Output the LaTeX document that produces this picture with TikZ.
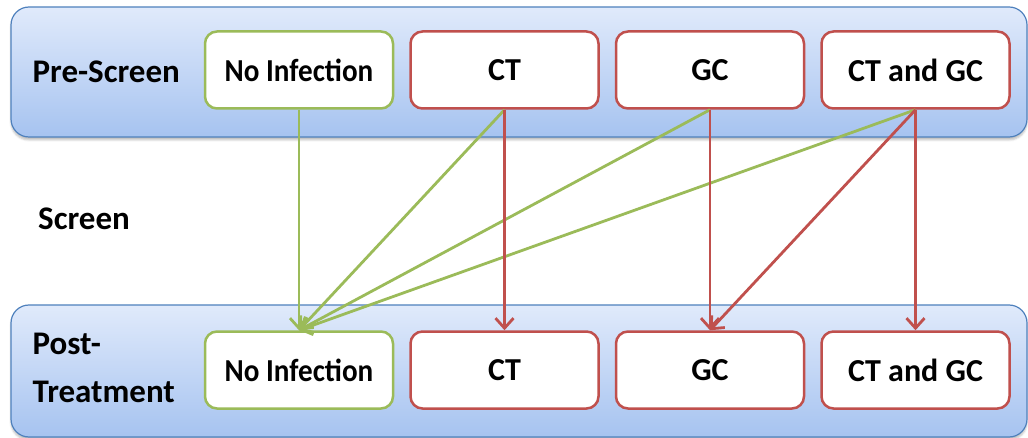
\documentclass[tikz,border=0pt]{standalone}
\usepackage{fontspec}
\setmainfont{Carlito}
\newfontfamily\narrowfont[FakeStretch=0.91]{Carlito}
\usetikzlibrary{arrows.meta,positioning,shadows.blur}
\definecolor{bandedge}{HTML}{4F81BD}
\definecolor{bandtop}{HTML}{E0EAFB}
\definecolor{bandbottom}{HTML}{A6C3F0}
\definecolor{greenedge}{HTML}{9BBB59}
\definecolor{rededge}{HTML}{C0504D}
\tikzset{
      band/.style = {draw=bandedge, line width=1.2pt, rounded corners=18pt,
                     top color=bandtop, bottom color=bandbottom,
                     minimum width=1016pt,
                     blur shadow={shadow xshift=0pt, shadow yshift=-3pt, shadow opacity=25}},
    infbox/.style = {draw, line width=2.5pt, rounded corners=12pt, fill=white,
                     minimum width=188pt, minimum height=77pt,
                     font=\fontsize{32}{36}\selectfont\bfseries},
  clearbox/.style = {infbox, draw=greenedge,
                     font=\fontsize{32}{36}\narrowfont\bfseries},   % no infection
    posbox/.style = {infbox, draw=rededge},     % CT / GC
  rowlabel/.style = {anchor=west, inner sep=0pt, align=left,
                     font=\fontsize{33}{48}\selectfont\bfseries},
       arr/.style = {line width=2.8pt, -{Straight Barb[length=10pt, width=18pt]}},
}

\begin{document}
\begin{tikzpicture}[x=1pt,y=-1pt]
\useasboundingbox (0,0) rectangle (1028,438);
% the two bands
\node[band, minimum height=130pt] (preband) at (519,72) {};
\node[band, minimum height=132pt] (postband) at (519,371) {};
\node[rowlabel] (prelbl) at ([xshift=22pt]preband.west) {Pre-Screen};
\node[rowlabel] (postlbl) at ([xshift=22pt,yshift=3pt]postband.west) {Post-\\Treatment};
\node[rowlabel] (screenlbl) at (38,219) {Screen};

% before
\node[clearbox] (preNo) at (299,70) {No Infection};
\node[posbox, right=15pt of preNo] (preCT) {CT};
\node[posbox, right=15pt of preCT] (preGC) {GC};
\node[posbox, right=15pt of preGC] (preBoth) {CT and GC};

% after
\node[clearbox] (postNo) at (299,370) {No Infection};
\node[posbox, right=15pt of postNo] (postCT) {CT};
\node[posbox, right=15pt of postCT] (postGC) {GC};
\node[posbox, right=15pt of postGC] (postBoth) {CT and GC};

\draw[arr, greenedge] (preNo.south) -- (postNo.north);
\draw[arr, greenedge] (preCT.south) -- (postNo.north);
\draw[arr, greenedge] (preGC.south) -- (postNo.north);
\draw[arr, greenedge] (preBoth.south) -- (postNo.north);
\draw[arr, rededge] (preCT.south) -- (postCT.north);
\draw[arr, rededge] (preGC.south) -- (postGC.north);
\draw[arr, rededge] (preBoth.south) -- (postGC.north);
\draw[arr, rededge] (preBoth.south) -- (postBoth.north);
\end{tikzpicture}
\end{document}
